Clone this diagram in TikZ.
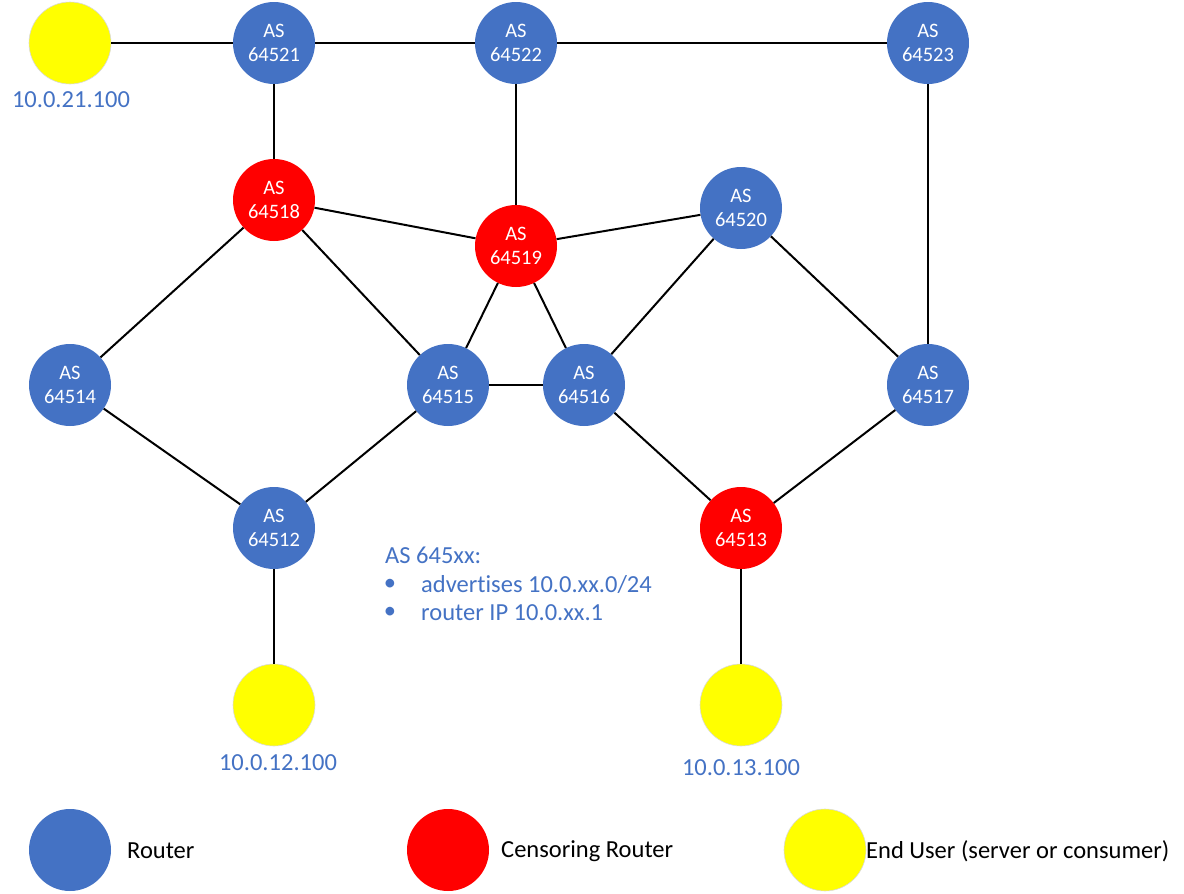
\documentclass[tikz,border=0pt]{standalone}
\usepackage{fontspec}
\setmainfont{Carlito}[Ligatures={NoCommon}]
\definecolor{rblue}{HTML}{4472C4}
\definecolor{rred}{HTML}{FF0000}
\definecolor{ryel}{HTML}{FFFF00}
\begin{document}
\begin{tikzpicture}[x=1pt,y=-1pt,
  asnode/.style={circle,minimum size=82pt,inner sep=0pt,align=center,text=white,
     font=\fontsize{20.5}{24}\selectfont},
  router/.style={asnode,fill=rblue},
  censor/.style={asnode,fill=rred},
  enduser/.style={circle,minimum size=82pt,inner sep=0pt,fill=ryel,draw=black!15,line width=0.6pt},
  iplabel/.style={text=rblue,font=\fontsize{24.5}{28}\selectfont,inner sep=0pt},
  legtext/.style={text=black,font=\fontsize{24.5}{28}\selectfont,inner sep=0pt,anchor=west},
  link/.style={line width=2pt,black}]
\useasboundingbox (0,0) rectangle (1184,894);
% nodes
\node[enduser] (y21) at (70,43) {};
\node[router] (n21) at (274,43) {AS\\64521};
\node[router] (n22) at (516,43) {AS\\64522};
\node[router] (n23) at (928,43) {AS\\64523};
\node[censor] (n18) at (274,200) {AS\\64518};
\node[censor] (n19) at (516,246) {AS\\64519};
\node[router] (n20) at (741,208) {AS\\64520};
\node[router] (n14) at (70,385) {AS\\64514};
\node[router] (n15) at (448,385) {AS\\64515};
\node[router] (n16) at (584,385) {AS\\64516};
\node[router] (n17) at (928,385) {AS\\64517};
\node[router] (n12) at (274,528) {AS\\64512};
\node[censor] (n13) at (741,528) {AS\\64513};
\node[enduser] (y12) at (274,705) {};
\node[enduser] (y13) at (741,705) {};
% links
\draw[link] (y21) -- (n21);
\draw[link] (n21) -- (n22);
\draw[link] (n22) -- (n23);
\draw[link] (n21) -- (n18);
\draw[link] (n22) -- (n19);
\draw[link] (n23) -- (n17);
\draw[link] (n18) -- (n19);
\draw[link] (n18) -- (n14);
\draw[link] (n18) -- (n15);
\draw[link] (n19) -- (n20);
\draw[link] (n19) -- (n15);
\draw[link] (n19) -- (n16);
\draw[link] (n20) -- (n16);
\draw[link] (n20) -- (n17);
\draw[link] (n15) -- (n16);
\draw[link] (n14) -- (n12);
\draw[link] (n15) -- (n12);
\draw[link] (n16) -- (n13);
\draw[link] (n17) -- (n13);
\draw[link] (n12) -- (y12);
\draw[link] (n13) -- (y13);
% ip labels
\node[iplabel] (l21) at (71,100) {10.0.21.100};
\node[iplabel] (l12) at (278,763) {10.0.12.100};
\node[iplabel] (l13) at (741,768) {10.0.13.100};
% info text
\node[iplabel,anchor=west] (info) at (385,555) {AS 645xx:};
\node[iplabel] (b1) at (390,585) {\textbullet};
\node[iplabel,anchor=west] (t1) at (421,585) {advertises 10.0.xx.0/24};
\node[iplabel] (b2) at (390,613) {\textbullet};
\node[iplabel,anchor=west] (t2) at (421,613) {router IP 10.0.xx.1};
% legend
\node[router] (lg1) at (70,850) {};
\node[legtext] (lt1) at (127,851) {Router};
\node[censor] (lg2) at (448,850) {};
\node[legtext] (lt2) at (501,851) {Censoring Router};
\node[enduser] (lg3) at (825,850) {};
\node[legtext] (lt3) at (866,851) {End User (server or consumer)};
\end{tikzpicture}
\end{document}
